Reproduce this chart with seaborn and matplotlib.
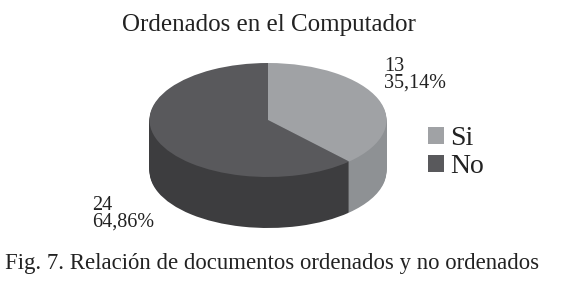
import matplotlib
matplotlib.use("Agg")
import matplotlib.pyplot as plt
import numpy as np
import seaborn as sns

sns.set_theme(style="white")
plt.rcParams['font.family'] = ['Liberation Serif', 'DejaVu Serif']

TITLE = "Ordenados en el Computador"
CAPTION = "Fig. 7. Relación de documentos ordenados y no ordenados"
categories = ["Si", "No"]
counts = [13, 24]
percents = ["35,14%", "64,86%"]
# share of the top ellipse each slice takes in the picture (the 3D view widens Si)
drawn_shares = [38, 62]

top_colors = ["#a0a2a5", "#59595c"]
side_colors = ["#8e9194", "#3d3d3f"]

W, H = 580, 285
CX, CY = 268, 120
RX, RY = 118.5, 57
DEPTH = 51

fig, ax = plt.subplots(figsize=(W / 100, H / 100), dpi=100)
fig.subplots_adjust(0, 0, 1, 1)

# side of the cylinder: stack of pies going up to the top face
for off in np.arange(DEPTH, 0, -1) / RY:
    ax.pie(drawn_shares, colors=side_colors, startangle=90, counterclock=False,
           center=(0, -off), wedgeprops={"linewidth": 0.6, "edgecolor": "none"})

wedges, _ = ax.pie(drawn_shares, colors=top_colors, startangle=90, counterclock=False,
                   wedgeprops={"linewidth": 0})

ax.set_aspect("auto")
ax.set_xlim(-CX / RX, (W - CX) / RX)
ax.set_ylim(-(H - CY) / RY, CY / RY)
ax.axis("off")


def fx(px):
    return px / W


def fy(py):
    return 1 - py / H


fig.text(fx(269), fy(25), TITLE, fontsize=18, ha="center", va="center", color="#222222")
fig.text(fx(384), fy(75), f"{counts[0]}\n{percents[0]}", fontsize=14.5, ha="left", va="center",
         linespacing=0.85, color="#222222")
fig.text(fx(92), fy(214), f"{counts[1]}\n{percents[1]}", fontsize=14.5, ha="left", va="center",
         linespacing=0.85, color="#222222")
fig.text(fx(5), fy(264), CAPTION, fontsize=16.4, ha="left", va="center", color="#222222")

leg = ax.legend(wedges, categories, loc="upper left", bbox_to_anchor=(fx(428), fy(126)),
                bbox_transform=fig.transFigure, frameon=False, fontsize=20, borderpad=0, borderaxespad=0,
                handlelength=0.58, handleheight=0.58, handletextpad=0.22, labelspacing=0.12,
                labelcolor="#222222")

fig.savefig("out.png", dpi=100, facecolor="white")
